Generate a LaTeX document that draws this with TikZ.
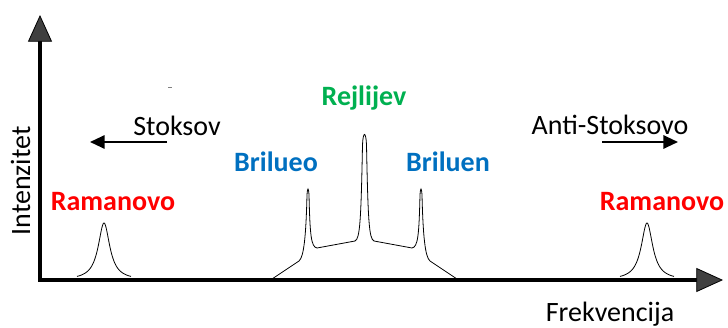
\documentclass[tikz,border=0pt]{standalone}
\usepackage{fontspec}
\setmainfont{Carlito}
\usetikzlibrary{arrows.meta}

\definecolor{ramanred}{RGB}{255,0,0}
\definecolor{rayleighgreen}{RGB}{0,176,80}
\definecolor{brillouinblue}{RGB}{0,112,192}
\definecolor{axisgray}{RGB}{64,64,64}

\tikzset{
  axis/.style={line width=3pt,
    arrows={{Triangle[length=20pt,width=18pt,line width=0.6pt,fill=axisgray]}-{Triangle[length=20pt,width=18pt,line width=0.6pt,fill=axisgray]}}},
  dirarrow/.style={line width=1.5pt, arrows={-{Triangle[length=11pt,width=10pt]}}},
  peakline/.style={line width=0.6pt},
  plaintext/.style={font=\fontsize{21pt}{25pt}\selectfont, inner sep=0pt, anchor=base},
  boldtext/.style={plaintext, font=\fontsize{21pt}{25pt}\selectfont\bfseries},
}

\begin{document}
\begin{tikzpicture}[x=0.75pt,y=0.75pt,yscale=-1,xscale=1]
\useasboundingbox (0,0) rectangle (728,328);

%Shape: Axis 2D
\coordinate (ytop) at (40,15);
\coordinate (origin) at (40,280);
\coordinate (xend) at (723,280);
\draw [axis] (ytop) -- (origin) -- (xend) ;

%Straight Lines (stray mark)
\draw [gray, line width=0.5pt] (168,87) -- (172,87) ;

%Curve Lines: Raman peaks
\draw [peakline] plot [domain=77:131, samples=90] (\x, {280 - 57/(1+((\x-104)/7)^2)}) ;
\draw [peakline] plot [domain=620:674, samples=90] (\x, {280 - 57/(1+((\x-647)/7)^2)}) ;

%Curve Lines: Brillouin and Rayleigh group
\draw [peakline] (272,279) -- (299,261)
  .. controls (304,257) and (306,235) .. (307,195)
  .. controls (307.5,187) and (308.5,187) .. (309,195)
  .. controls (310,235) and (311,247) .. (317,248)
  -- (355,241)
  .. controls (360,239) and (361,220) .. (362.5,145)
  .. controls (363,131) and (366,131) .. (366.5,145)
  .. controls (368,220) and (369,239) .. (374,241)
  -- (412,248)
  .. controls (418,247) and (419,235) .. (420,195)
  .. controls (420.5,187) and (421.5,187) .. (422,195)
  .. controls (423,235) and (425,257) .. (430,261)
  -- (457,279) ;

%Straight Lines: directions
\coordinate (stokesstart) at (167,142);
\coordinate (stokesend) at (90,142);
\draw [dirarrow] (stokesstart) -- (stokesend) ;
\coordinate (antistart) at (602,142);
\coordinate (antiend) at (678,142);
\draw [dirarrow] (antistart) -- (antiend) ;

% Text Node
\node [plaintext] (stokes) at (177,135) {Stoksov};
% Text Node
\node [plaintext] (antistokes) at (610,134) {Anti-Stoksovo};
% Text Node
\node [boldtext, text=ramanred] (ramanleft) at (113,210) {Ramanovo};
% Text Node
\node [boldtext, text=ramanred] (ramanright) at (662,210) {Ramanovo};
% Text Node
\node [boldtext, text=rayleighgreen] (rayleigh) at (364,105) {Rejlijev};
% Text Node
\node [boldtext, text=brillouinblue] (brillleft) at (276,171) {Brilueo};
% Text Node
\node [boldtext, text=brillouinblue] (brillright) at (448,171) {Briluen};
% Text Node
\node [plaintext, rotate=90] (intensity) at (30,181) {Intenzitet};
% Text Node
\node [plaintext] (frequency) at (610,321) {Frekvencija};

\end{tikzpicture}
\end{document}
